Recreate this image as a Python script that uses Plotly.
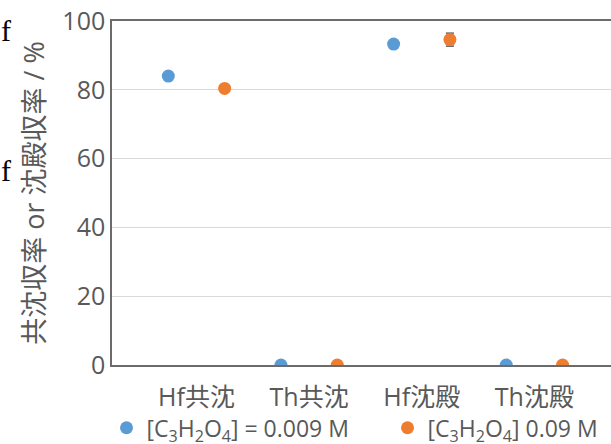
import plotly.graph_objects as go

# Yields (%) for each sample; x positions pair the two concentrations per category
categories = ["Hf共沈", "Th共沈", "Hf沈殿", "Th沈殿"]
series_names = [
    "[C<sub>3</sub>H<sub>2</sub>O<sub>4</sub>] = 0.009 M",
    "[C<sub>3</sub>H<sub>2</sub>O<sub>4</sub>] 0.09 M",
]
low_conc_x = [1, 3, 5, 7]
low_conc_y = [84.0, 0.0, 93.3, 0.0]
high_conc_x = [2, 4, 6, 8]
high_conc_y = [80.4, 0.0, 94.6, 0.0]
high_conc_err = [0.0, 0.0, 1.9, 0.0]
category_centers = [1.5, 3.5, 5.5, 7.5]
y_ticks = [0, 20, 40, 60, 80, 100]

BLUE = "#5B9BD5"
ORANGE = "#ED7D31"
TEXT = "#595959"
FONT = "Open Sans, Noto Sans CJK JP"

fig = go.Figure()
fig.add_trace(go.Scatter(
    x=low_conc_x, y=low_conc_y, mode="markers", name=series_names[0],
    marker=dict(color=BLUE, size=13),
))
fig.add_trace(go.Scatter(
    x=high_conc_x, y=high_conc_y, mode="markers", name=series_names[1],
    marker=dict(color=ORANGE, size=13),
    error_y=dict(type="data", array=high_conc_err, color="#404040",
                 thickness=1.2, width=4),
))

fig.update_layout(
    width=611, height=444,
    margin=dict(l=112, r=0, t=21, b=79, autoexpand=False),
    paper_bgcolor="white", plot_bgcolor="white",
    font=dict(family=FONT, color=TEXT, size=23),
    showlegend=True,
    legend=dict(
        orientation="h", x=-0.011, xanchor="left", y=-0.12, yanchor="top",
        font=dict(size=23, color=TEXT, family=FONT),
        entrywidth=236, entrywidthmode="pixels",
        itemwidth=30, bgcolor="rgba(0,0,0,0)",
    ),
    xaxis=dict(
        range=[0, 8.86], tickmode="array", tickvals=category_centers,
        ticktext=categories, showgrid=False, zeroline=False, automargin=False,
        showline=True, linecolor="#6b6b6b", linewidth=1.5, mirror=True,
        ticks="", ticklabelstandoff=9,
        tickfont=dict(size=25, color=TEXT, family=FONT),
    ),
    yaxis=dict(
        range=[0, 100], tickmode="array", tickvals=y_ticks, automargin=False,
        showgrid=True, gridcolor="#D9D9D9", gridwidth=1.2, zeroline=False,
        showline=True, linecolor="#6b6b6b", linewidth=1.5,
        ticks="", ticklabelstandoff=0,
        tickfont=dict(size=25, color=TEXT, family=FONT),
        title=dict(text="共沈収率 or 沈殿収率 / %", standoff=10,
                   font=dict(size=27, color=TEXT, family=FONT)),
    ),
)

# Fragments of the neighbouring page text at the left edge
for ypos in [30, 170]:
    fig.add_annotation(
        x=-106 / 499, y=(365 - ypos) / 344, xref="paper", yref="paper",
        xanchor="center", yanchor="middle", text="f", showarrow=False,
        font=dict(family="Liberation Serif", size=30, color="black"),
    )

fig.write_html("out.html")
